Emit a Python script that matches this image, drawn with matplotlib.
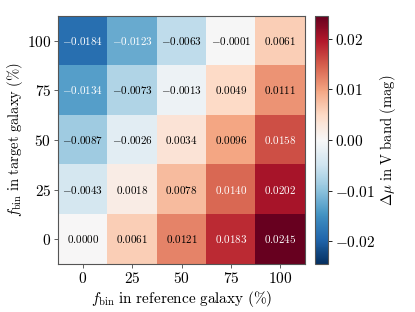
import numpy as np
import matplotlib
matplotlib.use("Agg")
import matplotlib.pyplot as plt
from matplotlib.ticker import FuncFormatter

plt.rcParams['mathtext.fontset'] = 'cm'
plt.rcParams['font.family'] = 'serif'
plt.rcParams['font.serif'] = ['DejaVu Serif']

# f_bin values (%)
ref_fbin = [0, 25, 50, 75, 100]
target_fbin = [0, 25, 50, 75, 100]

# delta mu, rows = target f_bin (0 -> 100), cols = reference f_bin (0 -> 100)
dmu_target_0 = [0.0000, 0.0061, 0.0121, 0.0183, 0.0245]
dmu_target_25 = [-0.0043, 0.0018, 0.0078, 0.0140, 0.0202]
dmu_target_50 = [-0.0087, -0.0026, 0.0034, 0.0096, 0.0158]
dmu_target_75 = [-0.0134, -0.0073, -0.0013, 0.0049, 0.0111]
dmu_target_100 = [-0.0184, -0.0123, -0.0063, -0.0001, 0.0061]

cbar_ticks = [-0.02, -0.01, 0.00, 0.01, 0.02]

data = np.array([dmu_target_0, dmu_target_25, dmu_target_50,
                 dmu_target_75, dmu_target_100])
vlim = np.abs(data).max()

fig = plt.figure(figsize=(4.15, 3.12), dpi=100)
ax = fig.add_axes([0.140, 0.154, 0.595, 0.795])
cax = fig.add_axes([0.759, 0.154, 0.032, 0.795])

im = ax.imshow(data, cmap='RdBu_r', vmin=-vlim, vmax=vlim, origin='lower',
               aspect='auto', interpolation='nearest')

# cell annotations, white text on the dark cells
for i in range(data.shape[0]):
    for j in range(data.shape[1]):
        v = data[i, j]
        color = 'white' if abs(v) > 0.5 * vlim else 'black'
        txt = r'$%.4f$' % v if v >= 0 else r'$\mathrm{-}%.4f$' % abs(v)
        ax.text(j, i, txt, ha='center', va='center', fontsize=8, color=color)

ax.set_xticks(range(len(ref_fbin)))
ax.set_xticklabels([r'$%d$' % v for v in ref_fbin], fontsize=11)
ax.set_yticks(range(len(target_fbin)))
ax.set_yticklabels([r'$%d$' % v for v in target_fbin], fontsize=11)
ax.tick_params(length=3, width=0.6, color='#444444', pad=2)
for s in ax.spines.values():
    s.set_color('#555555')
    s.set_linewidth(0.8)

ax.set_xlabel(r'$f_{\rm bin}\ \mathrm{in\ reference\ galaxy\ (\%)}$',
              fontsize=11, labelpad=2)
ax.set_ylabel(r'$f_{\rm bin}\ \mathrm{in\ target\ galaxy\ (\%)}$',
              fontsize=10.5, labelpad=1)

cb = fig.colorbar(im, cax=cax)
cb.set_ticks(cbar_ticks)
cb.ax.yaxis.set_major_formatter(FuncFormatter(lambda x, p: r'$%.2f$' % x))
cb.ax.tick_params(labelsize=11, length=3, width=0.6, pad=2)
cb.outline.set_linewidth(0.8)
cb.outline.set_edgecolor('#555555')
cb.set_label(r'$\Delta\mu\ \mathrm{in\ V\ band\ (mag)}$', fontsize=10.5, labelpad=2)

fig.savefig('out.png', dpi=100)
